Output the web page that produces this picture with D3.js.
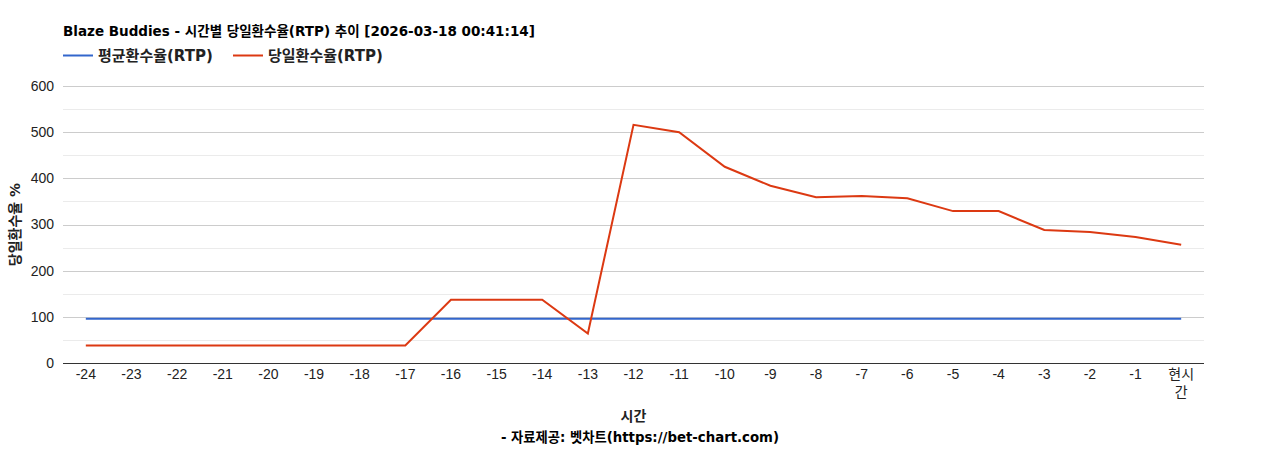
<!DOCTYPE html>
<html>
<head>
<meta charset="utf-8">
<script src="https://cdn.jsdelivr.net/npm/d3@7"></script>
<style>
  body { margin: 0; background: #fff; }
  text { font-family: Arial, "Liberation Sans", "Noto Sans CJK KR", sans-serif; }
  .label { font-family: "DejaVu Sans", "Noto Sans CJK KR", sans-serif; font-weight: bold; }
</style>
</head>
<body>
<div id="graph"></div>
<script>
// hours before now, last one is "현시간"
var hours = ["-24", "-23", "-22", "-21", "-20", "-19", "-18", "-17", "-16", "-15", "-14", "-13",
             "-12", "-11", "-10", "-9", "-8", "-7", "-6", "-5", "-4", "-3", "-2", "-1", "현시간"];
var avgRtp = [96, 96, 96, 96, 96, 96, 96, 96, 96, 96, 96, 96,
              96, 96, 96, 96, 96, 96, 96, 96, 96, 96, 96, 96, 96];
var dayRtp = [38, 38, 38, 38, 38, 38, 38, 38, 137, 137, 137, 64,
              516, 500, 425, 384, 359, 362, 357, 329, 329, 288, 284, 273, 256];
var yTicks = [0, 100, 200, 300, 400, 500, 600];
var yMinor = [50, 150, 250, 350, 450, 550];
var seriesNames = ["평균환수율(RTP)", "당일환수율(RTP)"];
var seriesColors = ["#3366cc", "#dc3912"];

var w = 1268, h = 450;
var plotLeft = 63, plotRight = 1204, plotTop = 86, plotBottom = 363;

var svg = d3.select("#graph").append("svg")
    .attr("width", w)
    .attr("height", h);

var xScale = d3.scaleBand()
    .domain(hours)
    .range([plotLeft, plotRight]);

var yScale = d3.scaleLinear()
    .domain([0, 600])
    .range([plotBottom, plotTop]);

// gridlines
svg.append("g").selectAll("line")
    .data(yMinor)
    .enter().append("line")
    .attr("x1", plotLeft).attr("x2", plotRight)
    .attr("y1", function(d) { return Math.round(yScale(d)) + 0.5; })
    .attr("y2", function(d) { return Math.round(yScale(d)) + 0.5; })
    .attr("stroke", "#ebebeb");

svg.append("g").selectAll("line")
    .data(yTicks.slice(1))
    .enter().append("line")
    .attr("x1", plotLeft).attr("x2", plotRight)
    .attr("y1", function(d) { return Math.round(yScale(d)) + 0.5; })
    .attr("y2", function(d) { return Math.round(yScale(d)) + 0.5; })
    .attr("stroke", "#cccccc");

// y axis labels
var yAxis = d3.axisLeft(yScale).tickValues(yTicks).tickSize(0).tickPadding(9);
var gy = svg.append("g")
    .attr("transform", "translate(" + plotLeft + ",0)")
    .call(yAxis);
gy.select(".domain").remove();
gy.selectAll("text")
    .attr("font-size", "14px")
    .attr("fill", "#222")
    .style("font-family", "Arial, 'Liberation Sans', sans-serif");

// x axis
var xAxis = d3.axisBottom(xScale).tickSize(0).tickPadding(6);
var gx = svg.append("g")
    .attr("transform", "translate(0," + plotBottom + ")")
    .call(xAxis);
gx.select(".domain").remove();
gx.selectAll("text")
    .attr("font-size", "14px")
    .attr("fill", "#222")
    .style("font-family", "Arial, 'Liberation Sans', 'Noto Sans CJK KR', sans-serif")
    .each(function(d) {
        // wrap the last label like the original
        if (d === "현시간") {
            var t = d3.select(this).text(null);
            t.append("tspan").attr("x", 0).attr("dy", "0.71em").text("현시");
            t.append("tspan").attr("x", 0).attr("dy", "1.3em").text("간");
            t.attr("dy", null);
        }
    });

svg.append("line")
    .attr("x1", plotLeft).attr("x2", plotRight)
    .attr("y1", plotBottom + 0.5).attr("y2", plotBottom + 0.5)
    .attr("stroke", "#333");

// lines
var lineFor = function(values) {
    return d3.line()
        .x(function(d, i) { return xScale(hours[i]) + xScale.bandwidth() / 2; })
        .y(function(d) { return yScale(d); })(values);
};

svg.append("path")
    .attr("d", lineFor(avgRtp))
    .attr("fill", "none")
    .attr("stroke", seriesColors[0])
    .attr("stroke-width", 2);

svg.append("path")
    .attr("d", lineFor(dayRtp))
    .attr("fill", "none")
    .attr("stroke", seriesColors[1])
    .attr("stroke-width", 2);

// title
svg.append("text")
    .attr("class", "label")
    .attr("x", plotLeft)
    .attr("y", 36)
    .attr("font-size", "13.5px")
    .attr("fill", "#000")
    .text("Blaze Buddies - 시간별 당일환수율(RTP) 추이 [2026-03-18 00:41:14]");

// legend
var legendX = [plotLeft, 233];
seriesNames.forEach(function(name, i) {
    svg.append("line")
        .attr("x1", legendX[i]).attr("x2", legendX[i] + 30)
        .attr("y1", 55.5).attr("y2", 55.5)
        .attr("stroke", seriesColors[i])
        .attr("stroke-width", 2);
    svg.append("text")
        .attr("class", "label")
        .attr("x", legendX[i] + 35)
        .attr("y", 60.5)
        .attr("font-size", "15px")
        .attr("fill", "#222")
        .text(name);
});

// axis titles
svg.append("text")
    .attr("class", "label")
    .attr("transform", "translate(20," + ((plotTop + plotBottom) / 2) + ") rotate(-90)")
    .attr("text-anchor", "middle")
    .attr("font-size", "14px")
    .attr("fill", "#222")
    .text("당일환수율 %");

svg.append("text")
    .attr("class", "label")
    .attr("x", (plotLeft + plotRight) / 2)
    .attr("y", 421)
    .attr("text-anchor", "middle")
    .attr("font-size", "14px")
    .attr("fill", "#222")
    .text("시간");

svg.append("text")
    .attr("class", "label")
    .attr("x", 640)
    .attr("y", 442)
    .attr("text-anchor", "middle")
    .attr("font-size", "13.3px")
    .attr("fill", "#000")
    .text("- 자료제공: 벳차트(https://bet-chart.com)");
</script>
</body>
</html>
